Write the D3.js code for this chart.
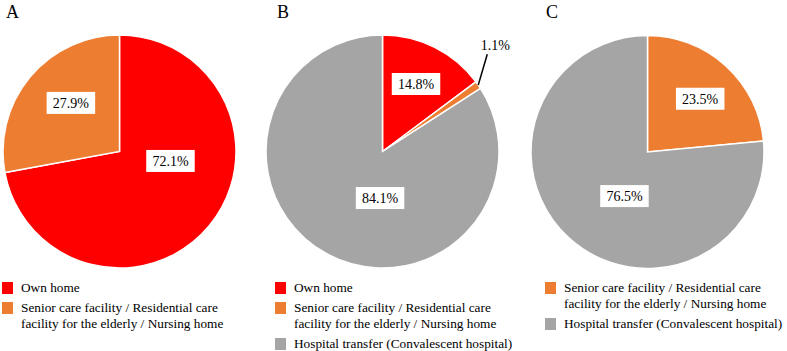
<!DOCTYPE html>
<html>
<head>
    <title>Discharge destination</title>
    <script src="https://d3js.org/d3.v7.min.js"></script>
    <style>
        body {
            margin: 0;
            background-color: white;
        }
        svg text {
            font-family: "Liberation Serif", "DejaVu Serif", serif;
            fill: #000;
        }
    </style>
</head>
<body>
<div id="chart"></div>
<script>
    // Data
    const panelNames = ["A", "B", "C"];

    const ownHome = "Own home";
    const seniorCare = "Senior care facility / Residential care\nfacility for the elderly / Nursing home";
    const hospital = "Hospital transfer (Convalescent hospital)";

    const categoriesA = [ownHome, seniorCare];
    const valuesA = [72.1, 27.9];

    const categoriesB = [ownHome, seniorCare, hospital];
    const valuesB = [14.8, 1.1, 84.1];

    const categoriesC = [seniorCare, hospital];
    const valuesC = [23.5, 76.5];

    // Layout (label placement in polar terms: degrees clockwise from top, fraction of radius)
    const labelSpots = [
        [{ a: 100.5, r: 0.445 }, { a: 315, r: 0.59 }],
        [{ a: 26.4, r: 0.647 }, { a: 46.7, r: 1.33, leader: true }, { a: 183, r: 0.40 }],
        [{ a: 44.7, r: 0.643 }, { a: 207.6, r: 0.427 }]
    ];
    const centers = [[119.5, 151.5], [382.5, 151.5], [647.5, 152]];
    const titleX = [6, 277, 546];
    const legendX = [2, 275, 545];

    const width = 787;
    const height = 351;
    const radius = 116.5;

    const color = d3.scaleOrdinal()
        .domain([ownHome, seniorCare, hospital])
        .range(["#FF0000", "#ED7D31", "#A5A5A5"]);

    const svg = d3.select("#chart")
        .append("svg")
        .attr("width", width)
        .attr("height", height)
        .attr("font-family", "'Liberation Serif', serif");

    const pie = d3.pie()
        .sort(null)
        .value(d => d.value);

    const arc = d3.arc()
        .innerRadius(0)
        .outerRadius(radius);

    const panelData = [
        categoriesA.map((c, i) => ({ category: c, value: valuesA[i] })),
        categoriesB.map((c, i) => ({ category: c, value: valuesB[i] })),
        categoriesC.map((c, i) => ({ category: c, value: valuesC[i] }))
    ];

    panelData.forEach((data, p) => {
        const [cx, cy] = centers[p];

        // Panel letter
        svg.append("text")
            .attr("x", titleX[p])
            .attr("y", 18)
            .style("font-size", "18px")
            .text(panelNames[p]);

        const g = svg.append("g")
            .attr("transform", `translate(${cx},${cy})`);

        const arcs = pie(data);

        g.selectAll("path")
            .data(arcs)
            .enter()
            .append("path")
            .attr("d", arc)
            .attr("fill", d => color(d.data.category))
            .attr("stroke", "white")
            .style("stroke-width", "1.5px");

        // Value labels
        arcs.forEach((d, i) => {
            const spot = labelSpots[p][i];
            const ang = spot.a * Math.PI / 180;
            const lx = Math.sin(ang) * radius * spot.r;
            const ly = -Math.cos(ang) * radius * spot.r;
            const txt = `${d.data.value.toFixed(1)}%`;

            if (spot.leader) {
                const mid = (d.startAngle + d.endAngle) / 2;
                g.append("line")
                    .attr("x1", Math.sin(mid) * radius)
                    .attr("y1", -Math.cos(mid) * radius)
                    .attr("x2", lx - 8)
                    .attr("y2", ly + 9)
                    .attr("stroke", "black")
                    .attr("stroke-width", 1.5);
                g.append("text")
                    .attr("x", lx)
                    .attr("y", ly + 4.5)
                    .attr("text-anchor", "middle")
                    .style("font-size", "14px")
                    .text(txt);
                return;
            }

            const t = g.append("text")
                .attr("x", lx)
                .attr("y", ly + 5)
                .attr("text-anchor", "middle")
                .style("font-size", "14px")
                .text(txt);
            const bb = t.node().getBBox();
            g.insert("rect", "text")
                .attr("x", lx - bb.width / 2 - 6)
                .attr("y", ly - 11)
                .attr("width", bb.width + 12)
                .attr("height", 22)
                .attr("fill", "white");
            t.raise();
        });

        // Legend
        let y = 292;
        data.forEach(d => {
            const lines = d.category.split("\n");
            svg.append("rect")
                .attr("x", legendX[p])
                .attr("y", y - 10)
                .attr("width", 11)
                .attr("height", 12)
                .attr("fill", color(d.category));
            const t = svg.append("text")
                .attr("x", legendX[p] + 19)
                .attr("y", y)
                .style("font-size", "13.3px");
            lines.forEach((line, k) => {
                t.append("tspan")
                    .attr("x", legendX[p] + 19)
                    .attr("dy", k === 0 ? 0 : 16)
                    .text(line);
            });
            y += 20 + (lines.length - 1) * 16;
        });
    });
</script>
</body>
</html>
